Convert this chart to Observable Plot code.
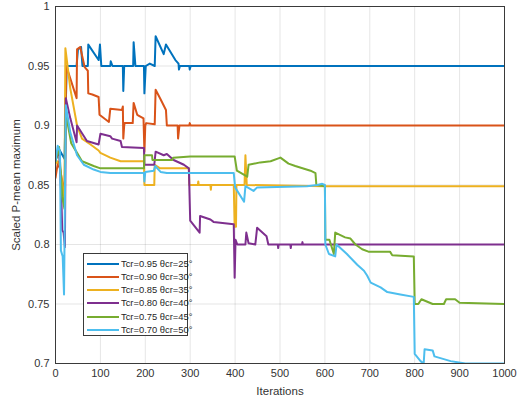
<!DOCTYPE html>
<html><head><meta charset="utf-8">
<script src="https://cdn.jsdelivr.net/npm/d3@7"></script>
<script src="https://cdn.jsdelivr.net/npm/@observablehq/plot@0.6"></script>
<style>
body{margin:0;background:#fff;font-family:"Liberation Sans",Arial,sans-serif;}
#wrap{position:relative;width:527px;height:403px;}
#legend{position:absolute;left:83px;top:253px;width:105px;height:83px;border:1px solid #3a3a3a;background:#fff;box-sizing:border-box;}
.row{position:absolute;left:0;height:13px;width:100%;}
.row .sw{position:absolute;left:3px;top:6px;width:32px;height:0;border-top:2px solid;}
.row .tx{position:absolute;left:37px;top:0;font-size:9.4px;line-height:13px;color:#262626;white-space:nowrap;}
</style>
</head><body>
<div id="wrap"><div id="chart"></div><div id="legend"></div></div>
<script>
const labels = ["Tcr=0.95 θcr=25°","Tcr=0.90 θcr=30°","Tcr=0.85 θcr=35°","Tcr=0.80 θcr=40°","Tcr=0.75 θcr=45°","Tcr=0.70 θcr=50°"];
const colors = ["#0072BD","#D95319","#EDB120","#7E2F8E","#77AC30","#4DBEEE"];
const xTicks = [0,100,200,300,400,500,600,700,800,900,1000];
const yTicks = [0.7,0.75,0.8,0.85,0.9,0.95,1];

const s095 = [[0,0.87],[8,0.88],[20,0.872],[25,0.95],[47,0.95],[50,0.964],[57,0.966],[60,0.95],[72,0.95],[73,0.968],[96,0.955],[99,0.968],[102,0.95],[122,0.95],[123,0.954],[127,0.95],[150,0.95],[151,0.929],[153,0.95],[173,0.95],[174,0.970],[178,0.95],[197,0.95],[198,0.927],[201,0.95],[210,0.952],[221,0.95],[223,0.975],[241,0.96],[246,0.968],[267,0.955],[274,0.952],[275,0.947],[277,0.95],[298,0.95],[299,0.947],[301,0.95],[1000,0.95]];
const s090 = [[0,0.856],[5,0.868],[10,0.864],[20,0.842],[24,0.95],[47,0.923],[48,0.964],[55,0.966],[65,0.949],[72,0.946],[73,0.927],[82,0.926],[96,0.924],[98,0.909],[119,0.903],[122,0.914],[148,0.913],[150,0.916],[151,0.889],[153,0.9],[154,0.902],[172,0.902],[174,0.919],[182,0.909],[196,0.906],[198,0.878],[200,0.9],[202,0.902],[221,0.901],[223,0.93],[234,0.922],[246,0.913],[248,0.9],[272,0.9],[273,0.889],[276,0.9],[298,0.9],[299,0.902],[301,0.9],[1000,0.9]];
const s085 = [[0,0.868],[5,0.87],[10,0.866],[20,0.835],[22,0.965],[33,0.931],[48,0.9],[59,0.889],[78,0.884],[96,0.879],[100,0.877],[122,0.873],[145,0.87],[197,0.87],[198,0.85],[220,0.85],[221,0.867],[233,0.864],[297,0.864],[298,0.85],[317,0.85],[318,0.853],[319,0.85],[345,0.85],[346,0.846],[347,0.85],[397,0.85],[399,0.815],[402,0.815],[403,0.85],[421,0.85],[423,0.875],[426,0.85],[600,0.849],[1000,0.849]];
const s080 = [[0,0.872],[8,0.878],[13,0.84],[15,0.812],[18,0.81],[21,0.798],[23,0.923],[33,0.906],[47,0.886],[48,0.9],[70,0.887],[96,0.884],[100,0.893],[122,0.891],[126,0.889],[145,0.887],[148,0.882],[197,0.881],[198,0.867],[220,0.867],[223,0.878],[241,0.875],[248,0.876],[263,0.871],[286,0.867],[297,0.864],[300,0.82],[321,0.81],[322,0.824],[345,0.821],[352,0.819],[397,0.817],[399,0.772],[401,0.804],[405,0.8],[423,0.8],[425,0.81],[430,0.801],[445,0.8],[449,0.814],[470,0.807],[474,0.8],[495,0.8],[496,0.797],[497,0.8],[523,0.8],[524,0.797],[525,0.8],[549,0.8],[550,0.802],[551,0.8],[1000,0.8]];
const s075 = [[0,0.87],[8,0.882],[15,0.84],[20,0.83],[23,0.91],[35,0.885],[48,0.877],[59,0.87],[85,0.866],[100,0.864],[197,0.864],[198,0.875],[215,0.875],[216,0.871],[260,0.871],[262,0.873],[300,0.874],[399,0.874],[404,0.862],[427,0.857],[430,0.867],[456,0.869],[479,0.87],[501,0.873],[519,0.868],[534,0.866],[568,0.862],[579,0.86],[581,0.85],[600,0.849],[601,0.804],[610,0.804],[620,0.792],[623,0.81],[645,0.806],[657,0.805],[668,0.8],[683,0.796],[697,0.794],[745,0.794],[750,0.791],[798,0.79],[800,0.75],[808,0.75],[815,0.754],[840,0.75],[865,0.75],[870,0.754],[890,0.754],[900,0.751],[1000,0.75]];
const s070 = [[0,0.87],[5,0.883],[10,0.878],[12,0.795],[16,0.79],[19,0.758],[23,0.917],[33,0.894],[48,0.875],[63,0.867],[85,0.863],[100,0.861],[122,0.86],[197,0.86],[198,0.853],[200,0.861],[219,0.862],[222,0.866],[234,0.861],[248,0.86],[397,0.86],[400,0.848],[420,0.836],[423,0.849],[441,0.845],[449,0.848],[560,0.849],[583,0.85],[594,0.851],[600,0.85],[601,0.8],[609,0.792],[623,0.79],[626,0.8],[649,0.792],[672,0.783],[687,0.778],[694,0.774],[702,0.768],[724,0.764],[739,0.76],[768,0.758],[798,0.756],[800,0.708],[813,0.702],[820,0.7],[822,0.712],[840,0.711],[844,0.706],[880,0.702],[913,0.7],[1000,0.7]];

const seriesData = [s095,s090,s085,s080,s075,s070];
const rows = [];
seriesData.forEach((s,i)=>s.forEach(([x,y])=>rows.push({series:labels[i],x,y})));

const fmt = d => String(+d.toFixed(2));

const chart = Plot.plot({
  width:527, height:403,
  marginLeft:55, marginRight:23, marginTop:6, marginBottom:40,
  style:{fontFamily:"Liberation Sans, Arial, sans-serif", fontSize:"11px", color:"#333", background:"#fff"},
  x:{domain:[0,1000]},
  y:{domain:[0.7,1]},
  color:{domain:labels, range:colors},
  marks:[
    Plot.gridX(xTicks,{stroke:"#000", strokeOpacity:0.1}),
    Plot.gridY(yTicks,{stroke:"#000", strokeOpacity:0.1}),
    Plot.line(rows,{x:"x", y:"y", z:"series", stroke:"series", strokeWidth:2, clip:true}),
    Plot.frame({stroke:"#3a3a3a"}),
    Plot.axisX(xTicks,{tickSize:0, tickPadding:6, tickFormat:d=>String(d), label:"Iterations", labelAnchor:"center", labelArrow:"none", labelOffset:31, fontSize:11}),
    Plot.axisY(yTicks,{tickSize:0, tickPadding:6, tickFormat:fmt, label:"Scaled P-mean maximum", labelAnchor:"center", labelArrow:"none", labelOffset:44, fontSize:11})
  ]
});
document.getElementById("chart").appendChild(chart);
chart.querySelectorAll("[aria-label='x-axis label'] text, [aria-label='y-axis label'] text").forEach(t=>t.setAttribute("font-size","11.5px"));

const lg = document.getElementById("legend");
labels.forEach((l,i)=>{
  const r = document.createElement("div");
  r.className="row";
  r.style.top = (2.5 + i*13.3) + "px";
  r.innerHTML = `<div class="sw" style="border-color:${colors[i]}"></div><div class="tx">${l}</div>`;
  lg.appendChild(r);
});
</script>
</body></html>
